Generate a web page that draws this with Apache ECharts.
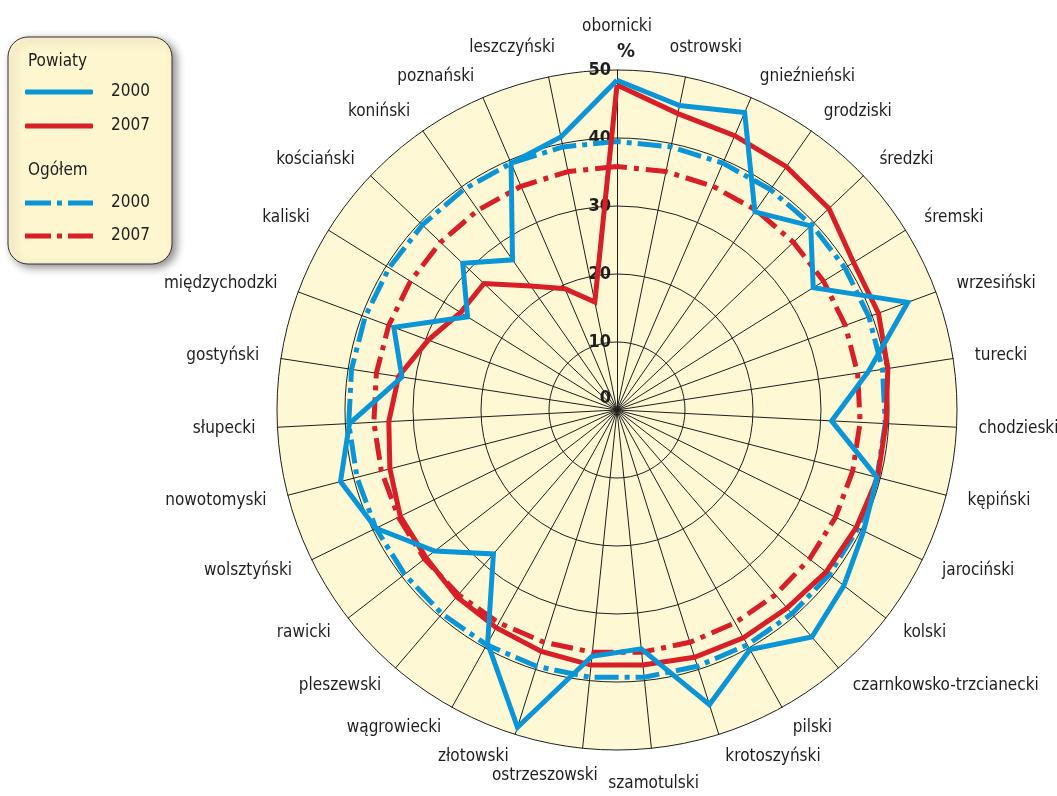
<!DOCTYPE html>
<html>
<head>
<meta charset="utf-8">
<title>Powiaty</title>
<script src="https://cdn.jsdelivr.net/npm/echarts@6/dist/echarts.min.js"></script>
<style>
  html, body { margin: 0; padding: 0; background: #fff; }
  #main { width: 1057px; height: 796px; }
</style>
</head>
<body>
<div id="main"></div>
<script>
// clockwise from the top
const categories = ['obornicki', 'ostrowski', 'gnieźnieński', 'grodziski', 'średzki', 'śremski',
  'wrzesiński', 'turecki', 'chodzieski', 'kępiński', 'jarociński', 'kolski',
  'czarnkowsko-trzcianecki', 'pilski', 'krotoszyński', 'szamotulski', 'ostrzeszowski',
  'złotowski', 'wągrowiecki', 'pleszewski', 'rawicki', 'wolsztyński', 'nowotomyski',
  'słupecki', 'gostyński', 'międzychodzki', 'kaliski', 'kościański', 'koniński',
  'poznański', 'leszczyński'];

const powiaty2000 = [48.5, 45.7, 47.6, 35.5, 39.3, 34.0, 45.6, 37.4, 31.6, 39.5, 40.4, 42.2,
  44.0, 40.3, 45.4, 35.3, 36.4, 48.9, 39.2, 27.9, 33.9, 39.5, 42.0, 39.4, 32.0, 35.0,
  25.9, 31.3, 26.9, 39.5, 41.0];
const powiaty2007 = [47.8, 44.5, 43.9, 43.6, 43.0, 41.0, 41.0, 40.3, 39.6, 39.6, 39.2, 38.9,
  38.4, 38.3, 38.1, 37.7, 37.7, 37.2, 36.6, 36.2, 35.5, 35.5, 34.5, 33.6, 32.5, 29.6,
  27.1, 27.0, 22.2, 19.4, 16.2];

// overall value for the whole region (one number each year)
const ogolem2000 = 39.5;
const ogolem2007 = 35.8;

const radiusTicks = [0, 10, 20, 30, 40, 50];

const BLUE = '#0a96d6';
const RED = '#d81e26';
const INK = '#1e1e1e';
const FONT = "'Liberation Sans Narrow', 'DejaVu Sans Condensed', sans-serif";
const CENTER = [617, 410];
const RADIUS = 340;
const NAME_SIZE = 17;

// hand placement of the few names near the vertical axis
const labelNudge = {
  'obornicki': { lineHeight: 42 },
  'ostrowski': { lineHeight: 15, padding: [0, 0, 0, 32] },
  'leszczyński': { lineHeight: 15, padding: [0, 64, 0, 0] },
  'szamotulski': { lineHeight: 26 },
  'ostrzeszowski': { lineHeight: 10, padding: [0, 71, 0, 0] }
};
const nudgeKeys = Object.keys(labelNudge);
const nameRich = {};
nudgeKeys.forEach((k, i) => {
  nameRich['n' + i] = Object.assign({ fontSize: NAME_SIZE, fontFamily: FONT, color: INK }, labelNudge[k]);
});

// radar lays indicators out counter-clockwise, the picture goes clockwise
function ccw(arr) {
  return [arr[0]].concat(arr.slice(1).reverse());
}

const DASHDOT = 'path://M0,0H26V5H0Z M32,0H37V5H32Z M43,0H68V5H43Z';

const chart = echarts.init(document.getElementById('main'));

const legendText = { fontSize: 17, lineHeight: 22, fontFamily: FONT, color: INK, padding: [0, 0, 0, 13] };

const option = {
  animation: false,
  backgroundColor: '#fff',
  graphic: [
    {
      type: 'rect',
      z: 0,
      shape: { x: 8, y: 37, width: 164, height: 227, r: 20 },
      style: {
        fill: '#fdf6cf', stroke: '#333', lineWidth: 1,
        shadowBlur: 8, shadowColor: 'rgba(0,0,0,0.45)', shadowOffsetX: 4, shadowOffsetY: 3
      }
    },
    {
      type: 'text', z: 5, left: 28, top: 53,
      style: { text: 'Powiaty', font: '17px ' + FONT, fill: INK }
    },
    {
      type: 'text', z: 5, left: 28, top: 162,
      style: { text: 'Ogółem', font: '17px ' + FONT, fill: INK }
    }
  ],
  legend: [
    {
      orient: 'vertical', left: 20, top: 76, selectedMode: false,
      itemWidth: 68, itemHeight: 5, itemGap: 12,
      formatter: n => n.split(' ')[1],
      textStyle: legendText,
      data: [
        { name: 'Powiaty 2000', icon: 'roundRect', itemStyle: { color: BLUE, borderWidth: 0 } },
        { name: 'Powiaty 2007', icon: 'roundRect', itemStyle: { color: RED, borderWidth: 0 } }
      ]
    },
    {
      orient: 'vertical', left: 20, top: 187, selectedMode: false,
      itemWidth: 68, itemHeight: 5, itemGap: 11,
      formatter: n => n.split(' ')[1],
      textStyle: legendText,
      data: [
        { name: 'Ogółem 2000', icon: DASHDOT, itemStyle: { color: BLUE, borderWidth: 0 } },
        { name: 'Ogółem 2007', icon: DASHDOT, itemStyle: { color: RED, borderWidth: 0 } }
      ]
    }
  ],
  radar: {
    center: CENTER,
    radius: RADIUS,
    startAngle: 90,
    shape: 'circle',
    splitNumber: radiusTicks.length - 1,
    indicator: ccw(categories).map(name => ({ name: name, min: radiusTicks[0], max: radiusTicks[radiusTicks.length - 1] })),
    axisName: { show: false },
    axisLine: { lineStyle: { color: INK, width: 1 } },
    splitLine: { lineStyle: { color: INK, width: 1 } },
    splitArea: { areaStyle: { color: ['#fef9d4'] } }
  },
  // polar only carries the text: district names and the % scale
  polar: { center: CENTER, radius: RADIUS },
  angleAxis: {
    type: 'category',
    data: categories,
    startAngle: 90,
    clockwise: true,
    boundaryGap: false,
    axisLine: { show: false },
    axisTick: { show: false },
    splitLine: { show: false },
    axisLabel: {
      interval: 0, margin: 22, fontSize: NAME_SIZE, lineHeight: 2, fontFamily: FONT, color: INK,
      formatter: v => {
        const i = nudgeKeys.indexOf(v);
        return i >= 0 ? '{n' + i + '|' + v + '}' : v;
      },
      rich: nameRich
    }
  },
  radiusAxis: {
    type: 'value',
    min: radiusTicks[0],
    max: radiusTicks[radiusTicks.length - 1],
    interval: radiusTicks[1] - radiusTicks[0],
    name: '%',
    nameLocation: 'end',
    nameGap: 8,
    nameTextStyle: { fontSize: 20, fontWeight: 'bold', fontFamily: FONT, color: INK, padding: [0, 0, 0, 18] },
    axisLine: { show: false },
    axisTick: { show: false },
    splitLine: { show: false },
    axisLabel: {
      margin: 6, fontSize: 18, fontWeight: 'bold', fontFamily: FONT, color: INK,
      formatter: v => v === radiusTicks[0] ? '{z|' + v + '}' : String(v),
      rich: { z: { fontSize: 18, fontWeight: 'bold', fontFamily: FONT, color: INK, padding: [0, 0, 24, 0] } }
    }
  },
  series: [{
    type: 'radar',
    symbol: 'none',
    silent: true,
    emphasis: { disabled: true },
    data: [
      {
        name: 'Ogółem 2007',
        value: ccw(categories.map(() => ogolem2007)),
        itemStyle: { color: RED },
        lineStyle: { color: RED, width: 5, type: [22, 7, 5, 7] }
      },
      {
        name: 'Ogółem 2000',
        value: ccw(categories.map(() => ogolem2000)),
        itemStyle: { color: BLUE },
        lineStyle: { color: BLUE, width: 5, type: [24, 6, 5, 6] }
      },
      {
        name: 'Powiaty 2007',
        value: ccw(powiaty2007),
        itemStyle: { color: RED },
        lineStyle: { color: RED, width: 5, join: 'miter' }
      },
      {
        name: 'Powiaty 2000',
        value: ccw(powiaty2000),
        itemStyle: { color: BLUE },
        lineStyle: { color: BLUE, width: 5, join: 'miter' }
      }
    ]
  }]
};

chart.setOption(option);
</script>
</body>
</html>
